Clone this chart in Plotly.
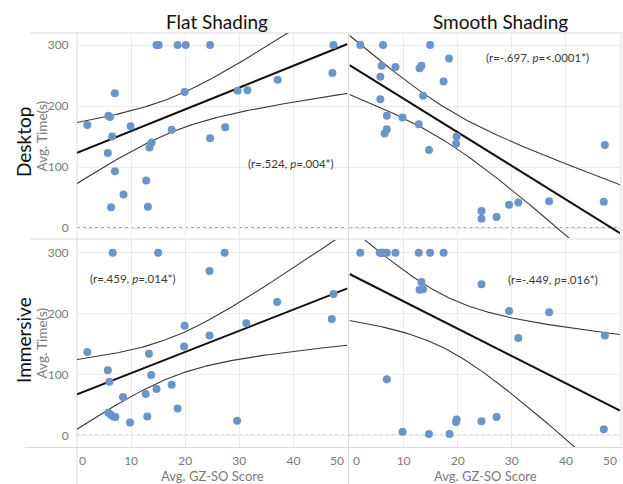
import numpy as np
import plotly.graph_objects as go

# ---------------- data ----------------
desk_flat_x = [1.9, 5.8, 6.1, 7.0, 6.5, 5.7, 7.0, 8.6, 6.3, 9.9, 12.8, 13.1, 13.4, 13.8,
               14.7, 15.1, 18.6, 20.1, 24.6, 19.9, 17.5, 24.6, 27.4, 29.7, 31.5, 37.1, 47.4, 47.2]
desk_flat_y = [169, 184, 182, 221, 150, 123, 93, 55, 34, 167, 78, 35, 132, 140,
               300, 300, 300, 300, 300, 223, 161, 147, 165, 225, 226, 243, 300, 254]

desk_smooth_x = [2.0, 6.2, 14.9, 18.4, 5.95, 8.5, 12.95, 13.3, 5.7, 17.4, 13.6, 5.7, 6.9, 9.8,
                 12.8, 6.9, 6.5, 19.8, 19.7, 14.7, 47.2, 24.4, 24.4, 27.2, 29.5, 31.2, 36.9, 47.0]
desk_smooth_y = [300, 300, 300, 278, 266, 264, 262, 266, 248, 240, 217, 211, 184, 181,
                 170, 162, 155, 150, 138, 128, 136, 28, 15, 18, 38, 42, 44, 43]

imm_flat_x = [6.6, 15.0, 27.3, 24.5, 1.9, 5.7, 6.0, 13.3, 13.7, 8.5, 12.7, 14.7, 17.5, 18.6,
              19.8, 19.9, 24.5, 31.3, 37.0, 47.4, 47.1, 29.6, 9.8, 13.0, 5.8, 6.2, 6.7, 7.1]
imm_flat_y = [300, 300, 300, 270, 137, 107, 88, 134, 99, 63, 68, 76, 83, 44,
              146, 180, 164, 184, 219, 232, 191, 24, 21, 31, 37, 34, 31, 30]

imm_smooth_x = [2.0, 5.6, 5.8, 6.0, 6.2, 6.5, 6.9, 8.5, 12.8, 14.9, 17.4, 13.3, 12.95, 13.6,
                24.4, 29.5, 36.9, 31.2, 47.2, 6.9, 9.8, 14.7, 18.5, 19.8, 19.7, 24.4, 27.2, 47.0]
imm_smooth_y = [300, 300, 300, 300, 300, 300, 300, 300, 300, 300, 300, 252, 239, 240,
                248, 204, 202, 160, 164, 92, 6, 2, 2, 26, 22, 23, 30, 10]

col_titles = ["Flat Shading", "Smooth Shading"]
row_titles = ["Desktop", "Immersive"]
stat_labels = ["(r=.524, <i>p</i>=.004*)", "(r=-.697, <i>p</i>=<.0001*)",
               "(r=.459, <i>p</i>=.014*)", "(r=-.449, <i>p</i>=.016*)"]
x_ticks = [0, 10, 20, 30, 40, 50]
y_ticks = [0, 100, 200, 300]
T_CRIT = 2.056  # t(0.975, df=26)

# ---------------- layout helpers ----------------
W, H = 623, 484
def px(x):
    return x / W
def py(y):
    return 1 - y / H

FONT = "Lato"
MARK = "#6b95c9"
TICK_FONT = dict(family=FONT, size=12, color="#7a7a7a")

panels = [
    (desk_flat_x, desk_flat_y, 1, 1),
    (desk_smooth_x, desk_smooth_y, 1, 2),
    (imm_flat_x, imm_flat_y, 2, 1),
    (imm_smooth_x, imm_smooth_y, 2, 2),
]
x_dom = {1: [px(77), px(347.5)], 2: [px(349.5), px(620)]}
y_dom = {1: [py(238), py(33)], 2: [py(447), py(240)]}
y_rng = {1: [-16.4, 319.7], 2: [-19.2, 320.8]}

fig = go.Figure()
shapes = []
annotations = []
for i, (xs, ys, r, c) in enumerate(panels):
    idx = i + 1
    xa = "x" if idx == 1 else f"x{idx}"
    ya = "y" if idx == 1 else f"y{idx}"
    xs_a = np.array(xs, float)
    ys_a = np.array(ys, float)
    n = len(xs_a)
    b, a = np.polyfit(xs_a, ys_a, 1)
    resid = ys_a - (a + b * xs_a)
    s = np.sqrt(np.sum(resid ** 2) / (n - 2))
    xbar = xs_a.mean()
    sxx = np.sum((xs_a - xbar) ** 2)
    xg = np.linspace(0, 50, 201)
    yg = a + b * xg
    hw = T_CRIT * s * np.sqrt(1 / n + (xg - xbar) ** 2 / sxx)
    for yy, wdt, col in [(yg + hw, 1.1, "#3a3a3a"), (yg - hw, 1.1, "#3a3a3a"), (yg, 2, "#111111")]:
        fig.add_trace(go.Scatter(x=xg, y=yy, mode="lines", xaxis=xa, yaxis=ya,
                                 line=dict(color=col, width=wdt), hoverinfo="skip",
                                 showlegend=False))
    fig.add_trace(go.Scatter(x=xs, y=ys, mode="markers", xaxis=xa, yaxis=ya,
                             marker=dict(color=MARK, size=8, line=dict(width=0)),
                             cliponaxis=False, showlegend=False))
    # dotted zero line
    shapes.append(dict(type="line", xref=f"{xa} domain", yref=ya, x0=0, x1=1, y0=0, y1=0,
                       line=dict(color="#555555", width=1, dash="dot"), layer="below"))

    # inner tick labels come from the axis; edge labels are nudged inward (Tableau style)
    xt = [str(v) for v in x_ticks]
    xt[0] = ""
    xt[-1] = ""
    if r == 2:
        annotations.append(dict(text=str(x_ticks[0]), x=x_ticks[0], xref=xa, y=py(460),
                                yref="paper", xanchor="left", yanchor="middle",
                                xshift=(0 if c == 1 else 1), showarrow=False, font=TICK_FONT))
        annotations.append(dict(text=str(x_ticks[-1]), x=x_ticks[-1], xref=xa, y=py(460),
                                yref="paper", xanchor="right", yanchor="middle",
                                xshift=(-2 if c == 1 else -1), showarrow=False, font=TICK_FONT))
    xaxis = dict(domain=x_dom[c], range=[0, 50], anchor=ya, tickvals=x_ticks, ticktext=xt,
                 showticklabels=(r == 2), showgrid=True, gridcolor="#ebebeb", gridwidth=1,
                 zeroline=False, showline=False, ticks="outside", ticklen=3,
                 tickcolor="rgba(0,0,0,0)", automargin=False,
                 tickfont=TICK_FONT, fixedrange=True)
    yaxis = dict(domain=y_dom[r], range=y_rng[r], anchor=xa, tickvals=y_ticks,
                 showticklabels=(c == 1), showgrid=True, gridcolor="#ebebeb", gridwidth=1,
                 zeroline=False, showline=False, ticks="outside", ticklen=5,
                 tickcolor="rgba(0,0,0,0)", automargin=False,
                 tickfont=TICK_FONT, fixedrange=True)
    fig.update_layout(**{("xaxis" if idx == 1 else f"xaxis{idx}"): xaxis,
                         ("yaxis" if idx == 1 else f"yaxis{idx}"): yaxis})

# panel borders / dividers
BORDER = "#dcdcdc"
for (x0, y0, x1, y1) in [(30, 33, 623, 33), (30, 239, 623, 239), (25, 447.5, 623, 447.5),
                         (77, 33, 77, 484), (348.5, 33, 348.5, 484), (621, 33, 621, 447.5)]:
    shapes.append(dict(type="line", xref="paper", yref="paper", x0=px(x0), x1=px(x1),
                       y0=py(y0), y1=py(y1), line=dict(color=BORDER, width=1), layer="below"))

def ann(text, x, y, size, color, angle=0):
    annotations.append(dict(text=text, x=px(x), y=py(y), xref="paper", yref="paper",
                            xanchor="center", yanchor="middle", textangle=angle,
                            showarrow=False, font=dict(family=FONT, size=size, color=color)))

# column titles
for t, xc in zip(col_titles, [217, 500]):
    ann(t, xc, 21, 19, "#111111")
# row titles and y-axis titles
for t, yc, yc2 in zip(row_titles, [142, 340], [136, 343]):
    ann(t, 23, yc, 19, "#111111", -90)
    ann("Avg. Time(s)", 41.5, yc2, 13.5, "#7a7a7a", -90)
# x-axis titles
for xc in [212, 485.5]:
    ann("Avg. GZ-SO Score", xc, 475.5, 13, "#7a7a7a")
# statistics labels
for t, (xc, yc) in zip(stat_labels, [(291, 163), (537.5, 57), (133, 278), (552.5, 279)]):
    ann(t, xc, yc, 11.5, "#3a3a3a")

fig.update_layout(width=W, height=H, margin=dict(l=0, r=0, t=0, b=0, pad=0),
                  paper_bgcolor="white", plot_bgcolor="white",
                  shapes=shapes, annotations=annotations, showlegend=False)

fig.write_html("out.html", config={"displayModeBar": False},
               post_script="document.body.style.margin='0';document.body.style.padding='0';"
                           "document.documentElement.style.overflow='hidden';")
